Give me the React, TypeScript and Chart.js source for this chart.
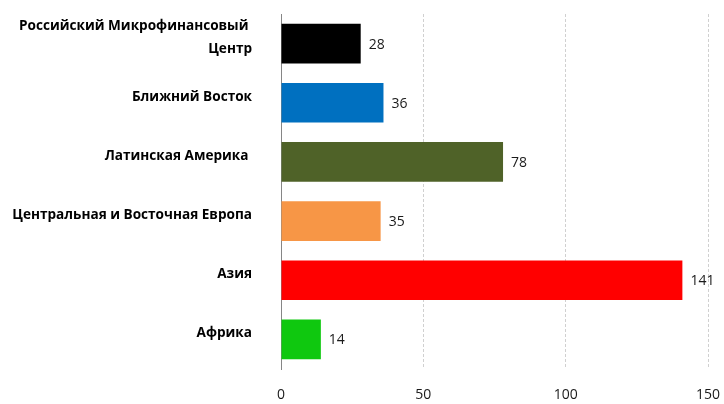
import React, { useEffect, useRef } from "react";
import { Chart, registerables } from "chart.js";

Chart.register(...registerables);

const categories: (string | string[])[] = [
  ["Российский Микрофинансовый ", "Центр"],
  "Ближний Восток",
  "Латинская Америка ",
  "Центральная и Восточная Европа",
  "Азия",
  "Африка",
];
const values: number[] = [28, 36, 78, 35, 141, 14];
const colors: string[] = ["#000000", "#0070C0", "#4F6228", "#F79646", "#FF0000", "#0FC80F"];
const xTicks: number[] = [0, 50, 100, 150];

const valueLabels = {
  id: "valueLabels",
  afterDatasetsDraw(chart: any) {
    const ctx = chart.ctx;
    const meta = chart.getDatasetMeta(0);
    ctx.save();
    ctx.font = "14px 'Open Sans', sans-serif";
    ctx.fillStyle = "#1a1a1a";
    ctx.textAlign = "left";
    ctx.textBaseline = "middle";
    meta.data.forEach((bar: any, i: number) => {
      ctx.fillText(String(values[i]), bar.x + 8, bar.y + 1);
    });
    ctx.restore();
  },
};

export default function App() {
  const ref = useRef<HTMLCanvasElement>(null);
  useEffect(() => {
    document.body.style.margin = "0";
    const chart = new Chart(ref.current!, {
      type: "bar",
      data: {
        labels: categories,
        datasets: [
          {
            data: values,
            backgroundColor: colors,
            borderWidth: 0,
            categoryPercentage: 1,
            barPercentage: 0.67,
          },
        ],
      },
      plugins: [valueLabels],
      options: {
        indexAxis: "y",
        responsive: false,
        animation: false,
        layout: { padding: { top: 14, right: 16, left: 0, bottom: 0 } },
        plugins: { legend: { display: false }, tooltip: { enabled: false } },
        scales: {
          x: {
            min: 0,
            max: 150,
            afterBuildTicks: (scale: any) => {
              scale.ticks = xTicks.map((v) => ({ value: v }));
            },
            afterFit: (scale: any) => {
              scale.height = 35;
              scale.paddingLeft = 0;
              scale.paddingRight = 0;
            },
            border: { display: false, dash: [3, 2] },
            grid: {
              drawTicks: false,
              color: (c: any) => (c.tick && c.tick.value === 0 ? "rgba(0,0,0,0)" : "#d0d0d0"),
              lineWidth: 1,
            },
            ticks: {
              padding: 18,
              color: "#1a1a1a",
              font: { size: 14, family: "'Open Sans', sans-serif" },
            },
          },
          y: {
            afterFit: (scale: any) => {
              scale.width = 281;
              scale.paddingTop = 0;
              scale.paddingBottom = 0;
            },
            border: { display: true, color: "#868686", width: 1 },
            grid: { display: false, drawTicks: false },
            ticks: {
              padding: 29,
              labelOffset: -6,
              color: "#000000",
              font: { size: 13.6, weight: "bold", family: "'Open Sans', sans-serif", lineHeight: 1.7 },
            },
          },
        },
      } as any,
    });
    return () => chart.destroy();
  }, []);
  return <canvas ref={ref} width={724} height={404} style={{ display: "block" }} />;
}
